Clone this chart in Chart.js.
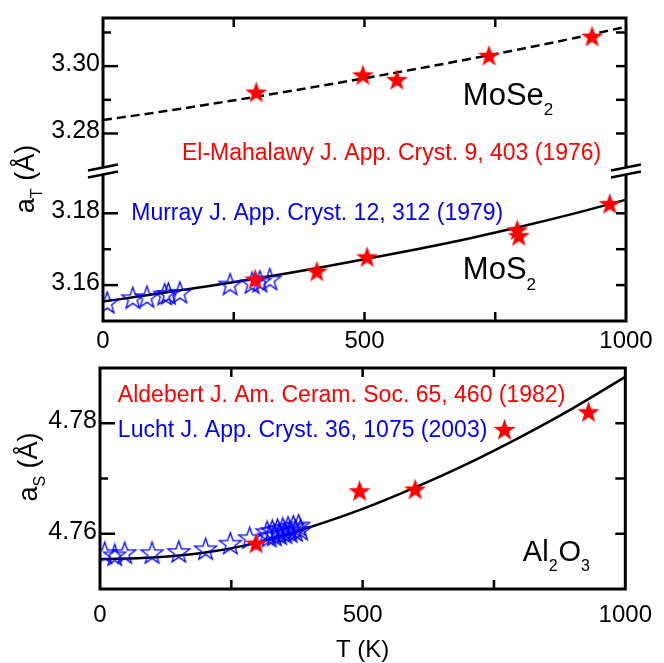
<!DOCTYPE html>
<html><head><meta charset="utf-8">
<script src="https://cdn.jsdelivr.net/npm/chart.js@4.4.1/dist/chart.umd.min.js"></script>
<style>
html,body{margin:0;padding:0;background:#fff;width:664px;height:663px;overflow:hidden}
#c1{position:absolute;left:0;top:0}
#c2{position:absolute;left:0;top:350px}
</style></head><body>
<canvas id="c1" width="664" height="350"></canvas>
<canvas id="c2" width="664" height="313"></canvas>
<script>
const FONT = '"Liberation Sans", Arial, Helvetica, sans-serif';

// ---- temperature axis ----
const tempTicks = [0, 250, 500, 750, 1000];
const tempLabels = ['0', '', '500', '', '1000'];

// ---- MoSe2 (upper part of top panel) ----
const mose2Ticks = [3.28, 3.29, 3.30, 3.31];
const mose2TickLabels = ['3.28', '', '3.30', ''];
const mose2StarT = [293, 497, 562, 738, 935];
const mose2StarA = [3.2920, 3.2971, 3.2957, 3.3029, 3.3086];
const mose2FitT = [0, 100, 200, 300, 400, 500, 600, 700, 800, 900, 1000];
const mose2FitA = [3.2840, 3.2862, 3.2886, 3.2911, 3.2937, 3.2964, 3.2992, 3.3021, 3.3051, 3.3083, 3.3117];

// ---- MoS2 (lower part of top panel) ----
const mos2Ticks = [3.16, 3.17, 3.18];
const mos2TickLabels = ['3.16', '', '3.18'];
const mos2RedT = [291, 409, 505, 792, 795, 969];
const mos2RedA = [3.1614, 3.1636, 3.1676, 3.1751, 3.1735, 3.1824];
const mos2BlueT = [8, 57, 84, 118, 125, 147, 243, 285, 300, 319];
const mos2BlueA = [3.1549, 3.1562, 3.1565, 3.1572, 3.1574, 3.1577, 3.1600, 3.1604, 3.1608, 3.1614];
const mos2FitT = [0, 100, 200, 300, 400, 500, 600, 700, 800, 900, 1000];
const mos2FitA = [3.1554, 3.1575, 3.1597, 3.1620, 3.1645, 3.1672, 3.1700, 3.1730, 3.1763, 3.1799, 3.1838];

// ---- Al2O3 (bottom panel) ----
const al2o3Ticks = [4.76, 4.77, 4.78];
const al2o3TickLabels = ['4.76', '', '4.78'];
const al2o3RedT = [297, 494, 600, 770, 930];
const al2o3RedA = [4.7581, 4.7676, 4.7679, 4.7787, 4.7819];
const al2o3BlueT = [9, 28, 47, 99, 150, 201, 248, 285,
  318, 328, 338, 348, 358, 368, 378,
  322, 332, 342, 352, 362, 372, 382];
const al2o3BlueA = [4.7564, 4.7560, 4.7564, 4.7564, 4.7566, 4.7571, 4.7581, 4.7591,
  4.7602, 4.7604, 4.7606, 4.7608, 4.7610, 4.7612, 4.7614,
  4.7594, 4.7596, 4.7598, 4.7600, 4.7602, 4.7604, 4.7606];
const al2o3FitT = [0, 100, 200, 300, 400, 500, 600, 700, 800, 900, 1000];
const al2o3FitA = [4.7554, 4.7557, 4.7566, 4.7584, 4.7612, 4.7645, 4.7684, 4.7727, 4.7775, 4.7827, 4.7884];

const pts = (xs, ys) => xs.map((x, i) => ({x: x, y: ys[i]}));

function starCanvas(R, fill, stroke, lw) {
  const pad = 2;
  const s = Math.ceil(2 * R + 2 * pad);
  const c = document.createElement('canvas');
  c.width = s; c.height = s;
  const g = c.getContext('2d');
  const cx = s / 2, cy = s / 2;
  g.beginPath();
  for (let i = 0; i < 10; i++) {
    const r = i % 2 === 0 ? R : R * 0.4;
    const ang = -Math.PI / 2 + i * Math.PI / 5;
    g.lineTo(cx + r * Math.cos(ang), cy + r * Math.sin(ang));
  }
  g.closePath();
  if (fill) { g.fillStyle = fill; g.fill(); }
  if (stroke) { g.strokeStyle = stroke; g.lineWidth = lw; g.stroke(); }
  return c;
}
const redStar = starCanvas(11.5, '#ff0000', null, 0);
const blueStar = starCanvas(11.5, null, '#0000ff', 1.3);

function line(ctx, x1, y1, x2, y2) {
  ctx.beginPath(); ctx.moveTo(x1, y1); ctx.lineTo(x2, y2); ctx.stroke();
}
function drawParts(ctx, x, y, parts, size, color) {
  ctx.fillStyle = color;
  ctx.textAlign = 'left';
  ctx.textBaseline = 'alphabetic';
  let cx = x;
  for (const [t, sub] of parts) {
    const fs = sub ? Math.round(size * 0.55) : size;
    ctx.font = fs + 'px ' + FONT;
    ctx.fillText(t, cx, sub ? y + size * 0.33 : y);
    cx += ctx.measureText(t).width + (sub ? 1 : 0);
  }
}
function drawYTitle(ctx, x, yc, sub) {
  ctx.save();
  ctx.translate(x, yc);
  ctx.rotate(-Math.PI / 2);
  ctx.fillStyle = '#000';
  ctx.textBaseline = 'alphabetic';
  ctx.textAlign = 'left';
  ctx.font = '27px ' + FONT; const wA = ctx.measureText('a').width;
  ctx.font = '16px ' + FONT; const wS = ctx.measureText(sub).width;
  ctx.font = '27px ' + FONT; const wP = ctx.measureText(' (Å)').width;
  let cx = -(wA + wS + wP) / 2;
  ctx.font = '27px ' + FONT; ctx.fillText('a', cx, 0); cx += wA;
  ctx.font = '16px ' + FONT; ctx.fillText(sub, cx, 8); cx += wS;
  ctx.font = '27px ' + FONT; ctx.fillText(' (Å)', cx, 0);
  ctx.restore();
}

function framePlugin(cfg) {
  return {
    id: 'frame',
    afterDraw(chart) {
      const {ctx, chartArea: ca, scales} = chart;
      ctx.save();
      ctx.strokeStyle = '#000';
      ctx.lineWidth = 3;
      ctx.strokeRect(ca.left, ca.top, ca.right - ca.left, ca.bottom - ca.top);
      ctx.lineWidth = 2.5;
      const xs = scales.x;
      tempTicks.forEach(v => {
        if (v <= xs.min || v >= xs.max) return;
        const px = xs.getPixelForValue(v);
        line(ctx, px, ca.bottom, px, ca.bottom - 9);
        line(ctx, px, ca.top, px, ca.top + 9);
      });
      cfg.yAxes.forEach(ya => {
        const s = scales[ya.id];
        ya.ticks.forEach((v, i) => {
          const py = s.getPixelForValue(v);
          if (py < s.top + 5 || py > s.bottom - 5) return;
          const len = ya.labels[i] ? 15 : 8;
          line(ctx, ca.left, py, ca.left + len, py);
          line(ctx, ca.right, py, ca.right - 10, py);
        });
      });
      if (cfg.breakAxis) {
        const yb = scales[cfg.breakAxis].bottom + 1.5;
        [ca.left, ca.right].forEach(x => {
          ctx.fillStyle = '#fff';
          ctx.fillRect(x - 3, yb - 3.5, 6, 7);
          ctx.strokeStyle = '#000';
          ctx.lineWidth = 2.5;
          [-3.5, 3.5].forEach(d => line(ctx, x - 15, yb + d + 3, x + 15, yb + d - 3));
        });
      }
      cfg.notes.forEach(n => {
        const px = xs.getPixelForValue(n.T);
        const py = scales[n.axis].getPixelForValue(n.a);
        drawParts(ctx, px, py, n.parts, n.size, n.color);
      });
      drawYTitle(ctx, cfg.titleX, ca.top + cfg.titleDY, cfg.titleSub);
      ctx.restore();
    }
  };
}

function xAxis(height, pad, title) {
  return {
    type: 'linear', position: 'bottom', min: 0, max: 1000,
    afterFit: s => { s.height = height; },
    afterBuildTicks: s => { s.ticks = tempTicks.map(v => ({value: v})); },
    grid: {display: false, drawTicks: false},
    border: {display: false},
    ticks: {
      autoSkip: false, maxRotation: 0, padding: pad, color: '#000',
      font: {family: FONT, size: 24},
      callback: v => { const i = tempTicks.indexOf(v); return i >= 0 ? tempLabels[i] : ''; }
    },
    title: title ? {display: true, text: title, color: '#000', font: {family: FONT, size: 24}, padding: {top: 0, bottom: -2}} : {display: false}
  };
}
function yAxis(min, max, ticks, labels, extra) {
  return Object.assign({
    type: 'linear', position: 'left', min: min, max: max,
    afterFit: s => { s.width = extra.width; },
    afterBuildTicks: s => { s.ticks = ticks.map(v => ({value: v})); },
    grid: {display: false, drawTicks: false},
    border: {display: false},
    ticks: {
      autoSkip: false, padding: 3, color: '#000', labelOffset: -2,
      font: {family: FONT, size: 25},
      callback: v => { const i = ticks.indexOf(v); return i >= 0 ? labels[i] : ''; }
    }
  }, extra.opts || {});
}

const common = {
  responsive: false, animation: false, devicePixelRatio: 1,
  plugins: {legend: {display: false}, tooltip: {enabled: false}},
  events: []
};

// ---------- top chart ----------
new Chart(document.getElementById('c1'), {
  type: 'line',
  data: {
    datasets: [
      {data: pts(mose2StarT, mose2StarA), yAxisID: 'yU', showLine: false, pointStyle: redStar, pointRadius: 11},
      {data: pts(mos2RedT, mos2RedA), yAxisID: 'yL', showLine: false, pointStyle: redStar, pointRadius: 11},
      {data: pts(mos2BlueT, mos2BlueA), yAxisID: 'yL', showLine: false, pointStyle: blueStar, pointRadius: 11},
      {data: pts(mose2FitT, mose2FitA), yAxisID: 'yU', borderColor: '#000', borderWidth: 2.5, borderDash: [9, 5],
        pointRadius: 0, cubicInterpolationMode: 'monotone', fill: false},
      {data: pts(mos2FitT, mos2FitA), yAxisID: 'yL', borderColor: '#000', borderWidth: 2.5,
        pointRadius: 0, cubicInterpolationMode: 'monotone', fill: false}
    ]
  },
  options: Object.assign({}, common, {
    layout: {padding: {left: 0, top: 7, right: 38, bottom: 0}},
    scales: {
      x: xAxis(29, 6, null),
      yU: yAxis(3.2693, 3.3143, mose2Ticks, mose2TickLabels, {width: 103, opts: {stack: 'top', stackWeight: 1, weight: 1}}),
      yL: yAxis(3.1500, 3.1922, mos2Ticks, mos2TickLabels, {width: 103, opts: {stack: 'top', stackWeight: 1, weight: 0}})
    }
  }),
  plugins: [framePlugin({
    yAxes: [{id: 'yU', ticks: mose2Ticks, labels: mose2TickLabels}, {id: 'yL', ticks: mos2Ticks, labels: mos2TickLabels}],
    breakAxis: 'yU',
    notes: [
      {parts: [['El-Mahalawy J. App. Cryst. 9, 403 (1976)', 0]], color: '#ff0000', size: 23, T: 151, a: 3.2722, axis: 'yU'},
      {parts: [['Murray J. App. Cryst. 12, 312 (1979)', 0]], color: '#0000ff', size: 23, T: 54, a: 3.1782, axis: 'yL'},
      {parts: [['MoSe', 0], ['2', 1]], color: '#000', size: 31, T: 688, a: 3.2885, axis: 'yU'},
      {parts: [['MoS', 0], ['2', 1]], color: '#000', size: 31, T: 688, a: 3.1616, axis: 'yL'}
    ],
    titleX: 34, titleDY: 161, titleSub: 'T'
  })]
});

// ---------- bottom chart ----------
new Chart(document.getElementById('c2'), {
  type: 'line',
  data: {
    datasets: [
      {data: pts(al2o3RedT, al2o3RedA), showLine: false, pointStyle: redStar, pointRadius: 11},
      {data: pts(al2o3BlueT, al2o3BlueA), showLine: false, pointStyle: blueStar, pointRadius: 11},
      {data: pts(al2o3FitT, al2o3FitA), borderColor: '#000', borderWidth: 2.5,
        pointRadius: 0, cubicInterpolationMode: 'monotone', fill: false}
    ]
  },
  options: Object.assign({}, common, {
    layout: {padding: {left: 0, top: 7, right: 31, bottom: 0}},
    scales: {
      x: xAxis(74, 12, 'T (K)'),
      y: yAxis(4.75, 4.79, al2o3Ticks, al2o3TickLabels, {width: 100})
    }
  }),
  plugins: [framePlugin({
    yAxes: [{id: 'y', ticks: al2o3Ticks, labels: al2o3TickLabels}],
    breakAxis: null,
    notes: [
      {parts: [['Aldebert J. Am. Ceram. Soc. 65, 460 (1982)', 0]], color: '#ff0000', size: 23, T: 34, a: 4.7838, axis: 'y'},
      {parts: [['Lucht J. App. Cryst. 36, 1075 (2003)', 0]], color: '#0000ff', size: 23, T: 34, a: 4.7776, axis: 'y'},
      {parts: [['Al', 0], ['2', 1], ['O', 0], ['3', 1]], color: '#000', size: 29, T: 805, a: 4.7550, axis: 'y'}
    ],
    titleX: 37, titleDY: 99, titleSub: 'S'
  })]
});
</script>
</body></html>
